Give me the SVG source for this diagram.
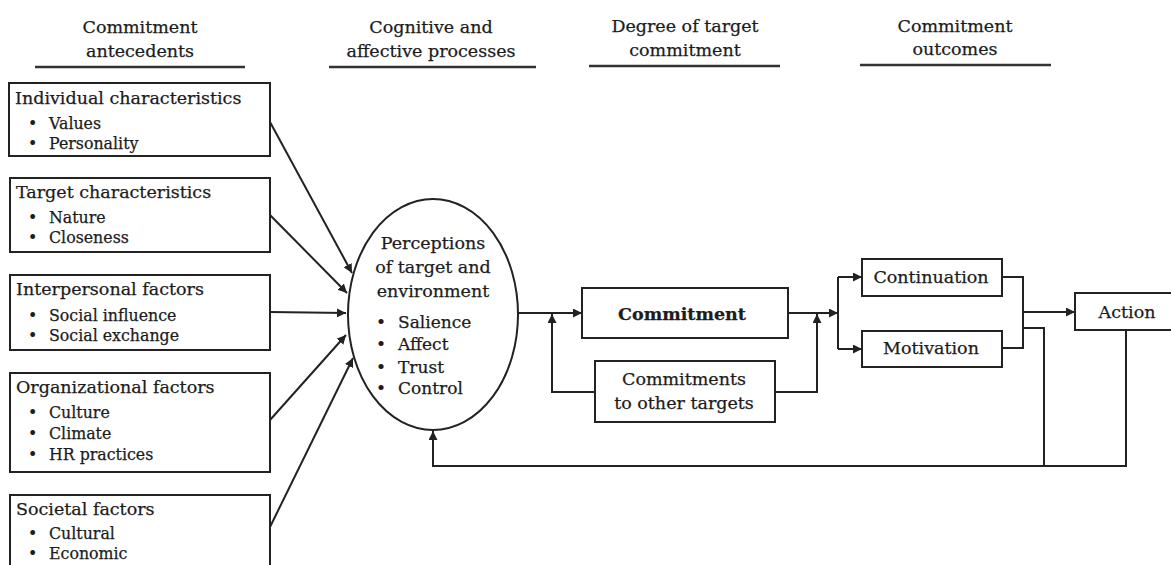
<svg xmlns="http://www.w3.org/2000/svg" width="1171" height="565" viewBox="0 0 1171 565">
<style>
text{font-family:"DejaVu Serif","Liberation Serif",serif;fill:#1c1c1c;stroke:#1c1c1c;stroke-width:0.25}
.h{font-size:17.5px;text-anchor:middle}
.t{font-size:17.5px}
.b{font-size:15.8px}
.e{font-size:17px}
.c{font-size:17.5px;text-anchor:middle}
.box{fill:#fff;stroke:#222;stroke-width:2}
.ln{fill:none;stroke:#222;stroke-width:2}
.hl{stroke:#333;stroke-width:2.5}
</style>
<defs>
<marker id="ah2" viewBox="0 0 10 10" refX="10" refY="5" markerWidth="9" markerHeight="9" markerUnits="userSpaceOnUse" orient="auto"><path d="M0,0 L10,5 L0,10 Z" fill="#222"/></marker>
</defs>

<g id="headers">
<text class="h" x="140" y="33">Commitment</text>
<text class="h" x="140" y="57">antecedents</text>
<line class="hl" x1="35" y1="67" x2="245" y2="67"/>
<text class="h" x="431" y="33">Cognitive and</text>
<text class="h" x="431" y="57">affective processes</text>
<line class="hl" x1="329" y1="67" x2="536" y2="67"/>
<text class="h" x="685" y="32">Degree of target</text>
<text class="h" x="685" y="56">commitment</text>
<line class="hl" x1="589" y1="66" x2="780" y2="66"/>
<text class="h" x="955" y="32">Commitment</text>
<text class="h" x="955" y="55">outcomes</text>
<line class="hl" x1="860" y1="65" x2="1051" y2="65"/>
</g>

<g id="individual">
<rect class="box" x="9" y="83" width="261" height="73"/>
<text class="t" x="15" y="104">Individual characteristics</text>
<text class="b" x="28" y="129">•</text><text class="b" x="49" y="129">Values</text>
<text class="b" x="28" y="149">•</text><text class="b" x="49" y="149">Personality</text>
</g>
<g id="target">
<rect class="box" x="10" y="178" width="260" height="74"/>
<text class="t" x="16" y="198">Target characteristics</text>
<text class="b" x="28" y="223">•</text><text class="b" x="49" y="223">Nature</text>
<text class="b" x="28" y="243">•</text><text class="b" x="49" y="243">Closeness</text>
</g>
<g id="interpersonal">
<rect class="box" x="10" y="275" width="260" height="75"/>
<text class="t" x="16" y="295">Interpersonal factors</text>
<text class="b" x="28" y="321">•</text><text class="b" x="49" y="321">Social influence</text>
<text class="b" x="28" y="341">•</text><text class="b" x="49" y="341">Social exchange</text>
</g>
<g id="organizational">
<rect class="box" x="10" y="373" width="260" height="99"/>
<text class="t" x="16" y="393">Organizational factors</text>
<text class="b" x="28" y="418">•</text><text class="b" x="49" y="418">Culture</text>
<text class="b" x="28" y="439">•</text><text class="b" x="49" y="439">Climate</text>
<text class="b" x="28" y="460">•</text><text class="b" x="49" y="460">HR practices</text>
</g>
<g id="societal">
<rect class="box" x="10" y="495" width="260" height="80"/>
<text class="t" x="16" y="515">Societal factors</text>
<text class="b" x="28" y="539">•</text><text class="b" x="49" y="539">Cultural</text>
<text class="b" x="28" y="559">•</text><text class="b" x="49" y="559">Economic</text>
</g>

<g id="perceptions">
<ellipse class="box" cx="433" cy="314.5" rx="85" ry="115.5"/>
<text class="c" x="433" y="249">Perceptions</text>
<text class="c" x="433" y="273">of target and</text>
<text class="c" x="433" y="297">environment</text>
<text class="e" x="376" y="328">•</text><text class="e" x="398" y="328">Salience</text>
<text class="e" x="376" y="350">•</text><text class="e" x="398" y="350">Affect</text>
<text class="e" x="376" y="373">•</text><text class="e" x="398" y="373">Trust</text>
<text class="e" x="376" y="394">•</text><text class="e" x="398" y="394">Control</text>
</g>

<g id="commitment">
<rect class="box" x="582" y="288" width="206" height="50"/>
<text class="c" x="682" y="320" font-weight="bold" font-size="16px">Commitment</text>
</g>
<g id="other">
<rect class="box" x="595" y="361" width="180" height="61"/>
<text class="c" x="684" y="385">Commitments</text>
<text class="c" x="684" y="409">to other targets</text>
</g>
<g id="continuation">
<rect class="box" x="862" y="259" width="140" height="37"/>
<text class="c" x="931" y="283">Continuation</text>
</g>
<g id="motivation">
<rect class="box" x="862" y="331" width="140" height="36"/>
<text class="c" x="931" y="354">Motivation</text>
</g>
<g id="action">
<rect class="box" x="1075" y="293" width="110" height="37"/>
<text class="c" x="1127" y="318">Action</text>
</g>

<g id="connectors">
<line class="ln" x1="270" y1="122" x2="352" y2="273" marker-end="url(#ah2)"/>
<line class="ln" x1="270" y1="215" x2="347" y2="293" marker-end="url(#ah2)"/>
<line class="ln" x1="270" y1="312" x2="346" y2="313" marker-end="url(#ah2)"/>
<line class="ln" x1="270" y1="420" x2="346" y2="335" marker-end="url(#ah2)"/>
<line class="ln" x1="270" y1="527" x2="353" y2="358" marker-end="url(#ah2)"/>
<line class="ln" x1="518" y1="313" x2="582" y2="313" marker-end="url(#ah2)"/>
<polyline class="ln" points="595,392 552,392 552,314" marker-end="url(#ah2)"/>
<line class="ln" x1="788" y1="313" x2="838" y2="313" marker-end="url(#ah2)"/>
<polyline class="ln" points="775,392 817,392 817,314" marker-end="url(#ah2)"/>
<polyline class="ln" points="838,277 838,349"/>
<line class="ln" x1="838" y1="277" x2="862" y2="277" marker-end="url(#ah2)"/>
<line class="ln" x1="838" y1="349" x2="862" y2="349" marker-end="url(#ah2)"/>
<polyline class="ln" points="1002,277 1023,277 1023,348 1002,348"/>
<line class="ln" x1="1023" y1="312" x2="1075" y2="312" marker-end="url(#ah2)"/>
<polyline class="ln" points="1023,328 1044,328 1044,466"/>
<polyline class="ln" points="1126,330 1126,466 433,466 433,431" marker-end="url(#ah2)"/>
</g>
</svg>
